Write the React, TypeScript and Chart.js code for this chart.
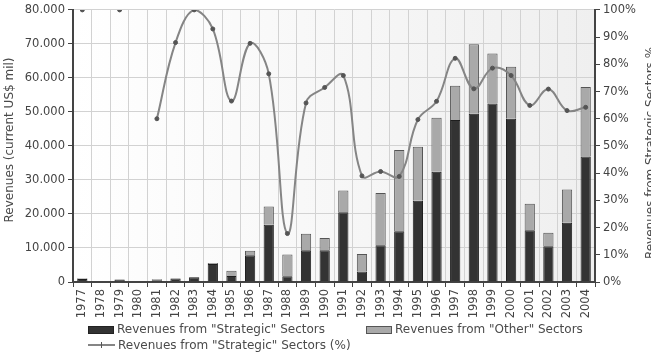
import React, { useEffect, useRef } from "react";
import { Chart, registerables } from "chart.js";

Chart.register(...registerables);

const years = ["1977","1978","1979","1980","1981","1982","1983","1984","1985","1986","1987","1988","1989","1990","1991","1992","1993","1994","1995","1996","1997","1998","1999","2000","2001","2002","2003","2004"];
const strategic = [900,0,700,0,500,1000,1400,5300,1800,7900,16800,1700,9300,9300,20500,3100,10800,14900,23900,32400,47600,49500,52500,48000,15200,10500,17400,36900];
const other = [200,0,0,0,300,100,100,300,1500,1300,5400,6400,4900,3600,6400,5100,15400,23900,15900,15900,10100,20400,14700,15300,7800,4000,9800,20400];
const strategicPct: (number | null)[] = [100,null,100,null,60,88,100,93,66.5,87.7,76.5,17.8,65.8,71.5,75.9,39,40.6,38.8,59.7,66.4,82.2,71,78.6,75.9,64.9,70.9,63,64.2];

const leftTicks = [0,10000,20000,30000,40000,50000,60000,70000,80000];
const rightTicks = [0,10,20,30,40,50,60,70,80,90,100];

const legendStrategic = 'Revenues from "Strategic" Sectors';
const legendOther = 'Revenues from "Other" Sectors';
const legendPct = 'Revenues from "Strategic" Sectors (%)';
const leftTitle = "Revenues (current US$ mil)";
const rightTitle = "Revenues from Strategic Sectors %";

const FONT = "DejaVu Sans";
const DARK = "#333333";
const GRAY = "#a9a9a9";
const LINE = "#858585";

const fmtLeft = (v: number) => (v === 0 ? "0" : Math.round(v / 1000) + ".000");

const decor = {
  id: "decor",
  beforeDraw(chart: any) {
    const { ctx, chartArea: a } = chart;
    ctx.save();
    const g = ctx.createLinearGradient(a.left, 0, a.right, 0);
    g.addColorStop(0, "#ffffff");
    g.addColorStop(1, "#efefef");
    ctx.fillStyle = g;
    ctx.fillRect(a.left, a.top, a.right - a.left, a.bottom - a.top);
    ctx.restore();
  },
  afterDraw(chart: any) {
    const { ctx } = chart;
    ctx.save();
    ctx.font = `12px "${FONT}"`;
    ctx.fillStyle = "#4a4a4a";
    ctx.textBaseline = "middle";
    // axis titles
    ctx.save();
    ctx.translate(10, 140);
    ctx.rotate(-Math.PI / 2);
    ctx.textAlign = "center";
    ctx.fillText(leftTitle, 0, 0);
    ctx.restore();
    ctx.save();
    ctx.translate(651, 153);
    ctx.rotate(-Math.PI / 2);
    ctx.textAlign = "center";
    ctx.fillText(rightTitle, 0, 0);
    ctx.restore();
    // legend
    ctx.textAlign = "left";
    const r1 = 330;
    const r2 = 346;
    ctx.fillStyle = DARK;
    ctx.fillRect(88, r1 - 4, 26, 8);
    ctx.strokeStyle = "#222";
    ctx.lineWidth = 1;
    ctx.strokeRect(88.5, r1 - 3.5, 25, 7);
    ctx.fillStyle = GRAY;
    ctx.fillRect(366, r1 - 4, 26, 8);
    ctx.strokeStyle = "#555";
    ctx.strokeRect(366.5, r1 - 3.5, 25, 7);
    ctx.fillStyle = "#4a4a4a";
    ctx.fillText(legendStrategic, 117, r1);
    ctx.fillText(legendOther, 395, r1);
    ctx.strokeStyle = LINE;
    ctx.lineWidth = 2;
    ctx.beginPath();
    ctx.moveTo(88, r2 - 1);
    ctx.lineTo(115, r2 - 1);
    ctx.stroke();
    ctx.lineWidth = 1;
    ctx.strokeStyle = "#555";
    ctx.beginPath();
    ctx.moveTo(101.5, r2 - 4);
    ctx.lineTo(101.5, r2 + 2);
    ctx.stroke();
    ctx.fillStyle = "#4a4a4a";
    ctx.fillText(legendPct, 118, r2);
    ctx.restore();
  },
};

export default function App() {
  const ref = useRef<HTMLCanvasElement | null>(null);
  useEffect(() => {
    if (!ref.current) return;
    const chart = new Chart(ref.current, {
      type: "bar",
      data: {
        labels: years,
        datasets: [
          {
            type: "line",
            label: legendPct,
            data: strategicPct,
            yAxisID: "y1",
            borderColor: LINE,
            borderWidth: 2,
            tension: 0.4,
            pointRadius: 2,
            pointBackgroundColor: "#555",
            pointBorderColor: "#555",
            pointBorderWidth: 1,
            spanGaps: false,
            order: 0,
          } as any,
          {
            label: legendStrategic,
            data: strategic,
            backgroundColor: DARK,
            borderColor: "#1e1e1e",
            borderWidth: 1,
            yAxisID: "y",
            stack: "s",
            barPercentage: 0.55,
            categoryPercentage: 1,
            order: 1,
          },
          {
            label: legendOther,
            data: other,
            backgroundColor: GRAY,
            borderColor: "#555",
            borderWidth: 1,
            yAxisID: "y",
            stack: "s",
            barPercentage: 0.55,
            categoryPercentage: 1,
            order: 1,
          },
        ],
      },
      options: {
        animation: false,
        responsive: true,
        maintainAspectRatio: false,
        layout: { padding: { top: 8, bottom: 34, left: 0, right: 0 } },
        plugins: { legend: { display: false }, tooltip: { enabled: false } },
        scales: {
          x: {
            stacked: true,
            offset: true,
            grid: { offset: true, color: "#d2d2d2", tickColor: "#444", tickLength: 5 },
            border: { color: "#444", width: 2 },
            ticks: {
              maxRotation: 90,
              minRotation: 90,
              autoSkip: false,
              padding: 2,
              color: "#444",
              font: { family: FONT, size: 11.5 },
            },
            afterFit: (s: any) => {
              s.height = 36;
            },
          },
          y: {
            stacked: true,
            position: "left",
            min: 0,
            max: 80000,
            afterBuildTicks: (s: any) => {
              s.ticks = leftTicks.map((v) => ({ value: v }));
            },
            grid: { color: "#d2d2d2", tickColor: "#444", tickLength: 5 },
            border: { color: "#444", width: 2 },
            ticks: {
              padding: 3,
              color: "#444",
              font: { family: FONT, size: 11.5 },
              callback: (v: any) => fmtLeft(Number(v)),
            },
            afterFit: (s: any) => {
              s.width = 73;
            },
          },
          y1: {
            position: "right",
            min: 0,
            max: 100,
            afterBuildTicks: (s: any) => {
              s.ticks = rightTicks.map((v) => ({ value: v }));
            },
            grid: { drawOnChartArea: false, tickColor: "#444", tickLength: 5 },
            border: { color: "#444", width: 2 },
            ticks: {
              padding: 3,
              color: "#444",
              font: { family: FONT, size: 11.5 },
              callback: (v: any) => v + "%",
            },
            afterFit: (s: any) => {
              s.width = 56;
            },
          },
        },
      },
      plugins: [decor],
    });
    return () => chart.destroy();
  }, []);
  return (
    <div style={{ position: "fixed", left: 0, top: 0, width: 651, height: 352, background: "#fff" }}>
      <canvas ref={ref} />
    </div>
  );
}
